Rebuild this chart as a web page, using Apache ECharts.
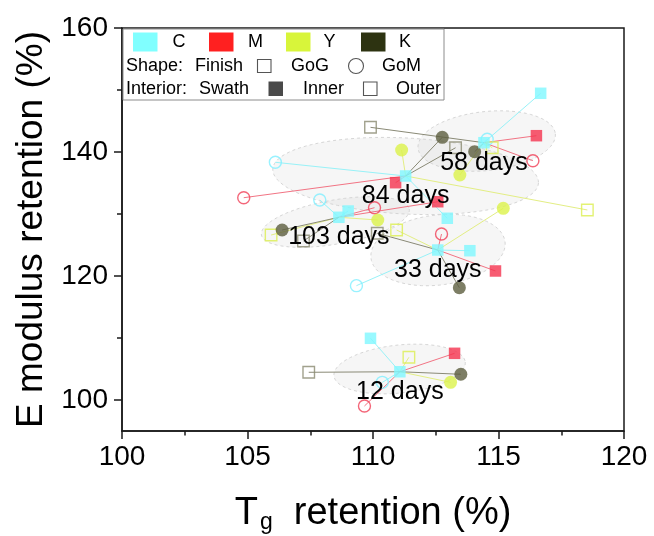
<!DOCTYPE html>
<html>
<head>
<meta charset="utf-8">
<script src="https://cdn.jsdelivr.net/npm/echarts@6/dist/echarts.min.js"></script>
<style>html,body{margin:0;padding:0;background:#fff;}#chart{width:654px;height:536px;}</style>
</head>
<body>
<div id="chart"></div>
<script>
// ---------- data (Tg retention %, E modulus retention %) ----------
const clusterNames = ['12 days', '33 days', '58 days', '84 days', '103 days'];
const hubTg = [111.07, 112.58, 114.42, 111.30, 108.64];
const hubE  = [104.56, 124.19, 141.50, 136.13, 129.47];

// C : GoG inner (square, filled), GoM outer (circle, hollow)
const cSquareTg = [109.90, 113.86, 116.68, 112.96, 109.01];
const cSquareE  = [109.95, 124.08, 149.47, 129.31, 130.48];
const cCircleTg = [110.37, 109.34, 114.55, 106.11, 107.88];
const cCircleE  = [102.85, 118.44, 142.05, 138.34, 132.26];
// M : GoG inner (square, filled), GoM outer (circle, hollow)
const mSquareTg = [113.25, 114.88, 116.51, 110.90, 112.58];
const mSquareE  = [107.53, 120.81, 142.63, 135.05, 131.98];
const mCircleTg = [109.66, 112.73, 116.37, 104.85, 110.06];
const mCircleE  = [ 99.03, 126.77, 138.60, 132.63, 131.02];
// Y : GoG outer (square, hollow), GoM inner (circle, filled)
const ySquareTg = [111.43, 110.94, 114.75, 118.54, 105.94];
const ySquareE  = [106.89, 127.42, 140.69, 130.65, 126.61];
const yCircleTg = [113.09, 115.19, 113.46, 111.14, 110.19];
const yCircleE  = [102.85, 130.92, 136.29, 140.32, 129.03];
// K : GoG outer (square, hollow), GoM inner (circle, filled)
const kSquareTg = [107.44, 110.17, 109.90, 113.29, 107.23];
const kSquareE  = [104.47, 126.89, 143.98, 140.69, 125.65];
const kCircleTg = [113.50, 113.44, 114.05, 112.76, 106.38];
const kCircleE  = [104.15, 118.11, 140.05, 142.37, 127.42];

// grouping ellipses (centre, semi-axes in axis units, tilt in degrees)
const ellTg   = [111.06, 112.59, 114.53, 111.30, 108.50];
const ellE    = [105.00, 124.19, 141.77, 136.13, 128.71];
const ellRTg  = [2.63, 2.69, 2.75, 5.30, 2.99];
const ellRE   = [3.87, 5.65, 4.76, 6.13, 3.55];
const ellTilt = [6, 7, 6, -3, 10];

const xTicks = [100, 105, 110, 115, 120];
const yTicks = [100, 120, 140, 160];
const yMinorTicks = [110, 130, 150];

const inkNames = ['C', 'M', 'Y', 'K'];
const shapeWords = ['Shape:', 'Finish', 'GoG', 'GoM'];
const interiorWords = ['Interior:', 'Swath', 'Inner', 'Outer'];

// ---------- styles ----------
const FONT = '"Liberation Sans", Arial, Helvetica, sans-serif';
const legendColors = ['#80FFFF', '#FF2020', '#D8F53A', '#2D3311'];
const markColors   = ['#7FF8FF', '#F5334F', '#DCF24A', '#5C5E3F'];
const strokeColors = ['#7FEFFF', '#F04058', '#DCEF50', '#8A8A70'];
const lineColors   = ['#98F2F8', '#F27484', '#E3EE84', '#8A8A76'];

const inks = [
  {sx: cSquareTg, sy: cSquareE, cx: cCircleTg, cy: cCircleE, squareFilled: true},
  {sx: mSquareTg, sy: mSquareE, cx: mCircleTg, cy: mCircleE, squareFilled: true},
  {sx: ySquareTg, sy: ySquareE, cx: yCircleTg, cy: yCircleE, squareFilled: false},
  {sx: kSquareTg, sy: kSquareE, cx: kCircleTg, cy: kCircleE, squareFilled: false}
];

const ellipseData = ellTg.map((v, i) => [v, ellE[i], ellRTg[i], ellRE[i], ellTilt[i]]);

const lineData = [];
inks.forEach((ink, k) => {
  clusterNames.forEach((n, i) => {
    lineData.push([hubTg[i], hubE[i], ink.sx[i], ink.sy[i], k]);
    lineData.push([hubTg[i], hubE[i], ink.cx[i], ink.cy[i], k]);
  });
});

function markItem(x, y, shape, filled, k) {
  return {
    value: [x, y],
    symbol: shape,
    symbolSize: shape === 'rect' ? 11.5 : (filled ? 13 : 12),
    itemStyle: filled
      ? {color: markColors[k], borderWidth: 0}
      : {color: 'rgba(255,255,255,0)', borderColor: strokeColors[k], borderWidth: 1.4}
  };
}

const scatterSeries = inks.map((ink, k) => ({
  type: 'scatter',
  name: inkNames[k],
  z: 4,
  data: clusterNames.flatMap((n, i) => [
    markItem(ink.sx[i], ink.sy[i], 'rect', ink.squareFilled, k),
    markItem(ink.cx[i], ink.cy[i], 'circle', !ink.squareFilled, k)
  ])
}));

// ---------- legend (graphic) ----------
const lg = [];
lg.push({type: 'rect', shape: {x: 123, y: 29, width: 321, height: 71},
  style: {fill: '#fff', stroke: '#8c8c8c', lineWidth: 1}, z: 100});
const swX = [133, 209, 286, 361];
const inkTextX = [179, 255.5, 329.5, 405];
inkNames.forEach((n, k) => {
  lg.push({type: 'rect', shape: {x: swX[k], y: 32.5, width: 24.5, height: 19},
    style: {fill: legendColors[k]}, z: 101});
  lg.push({type: 'text', z: 101, style: {text: n, x: inkTextX[k], y: 42.5, font: '18px ' + FONT,
    fill: '#000', textAlign: 'center', textVerticalAlign: 'middle'}});
});
const row2X = [126, 195, 291, 382];
shapeWords.forEach((w, i) => lg.push({type: 'text', z: 101, style: {text: w, x: row2X[i], y: 66,
  font: '18px ' + FONT, fill: '#000', textAlign: 'left', textVerticalAlign: 'middle'}}));
lg.push({type: 'rect', z: 101, shape: {x: 257.5, y: 59.5, width: 13.5, height: 13},
  style: {fill: '#fff', stroke: '#555', lineWidth: 1.1}});
lg.push({type: 'circle', z: 101, shape: {cx: 356, cy: 66, r: 7.5},
  style: {fill: '#fff', stroke: '#555', lineWidth: 1.1}});
const row3X = [126, 199, 303, 396];
interiorWords.forEach((w, i) => lg.push({type: 'text', z: 101, style: {text: w, x: row3X[i], y: 89,
  font: '18px ' + FONT, fill: '#000', textAlign: 'left', textVerticalAlign: 'middle'}}));
lg.push({type: 'rect', z: 101, shape: {x: 268.5, y: 81.5, width: 14.5, height: 14.5},
  style: {fill: '#4a4a4a'}});
lg.push({type: 'rect', z: 101, shape: {x: 363.5, y: 82, width: 13.5, height: 13.5},
  style: {fill: '#fff', stroke: '#555', lineWidth: 1.1}});

const axisLineStyle = {color: '#1a1a1a', width: 1.5};

const option = {
  backgroundColor: '#fff',
  animation: false,
  textStyle: {fontFamily: FONT},
  grid: {left: 122, right: 30, top: 28, bottom: 105, show: true, containLabel: false,
    outerBoundsMode: 'none',
    borderColor: '#1a1a1a', borderWidth: 1.5, backgroundColor: 'transparent'},
  xAxis: {
    type: 'value', min: xTicks[0], max: xTicks[xTicks.length - 1], interval: 5,
    axisLine: {show: true, lineStyle: axisLineStyle},
    axisTick: {show: true, length: 8, lineStyle: axisLineStyle},
    minorTick: {show: true, splitNumber: 2, length: 4.5, lineStyle: axisLineStyle},
    splitLine: {show: false},
    axisLabel: {fontSize: 28, color: '#000', margin: 12, fontFamily: FONT},
    name: '{a|T}{s|g}{a|  retention (%)}',
    nameLocation: 'middle', nameGap: 62,
    nameTextStyle: {
      rich: {
        a: {fontSize: 38, color: '#000', fontFamily: FONT},
        s: {fontSize: 23, color: '#000', fontFamily: FONT, padding: [18, 0, 0, 2]}
      }
    }
  },
  yAxis: [{
    type: 'value', min: 95, max: 160,
    axisLine: {show: true, lineStyle: axisLineStyle},
    axisTick: {show: true, length: 8, lineStyle: axisLineStyle, customValues: yTicks},
    splitLine: {show: false},
    axisLabel: {fontSize: 28, color: '#000', margin: 14, fontFamily: FONT, customValues: yTicks},
    name: 'E modulus retention (%)',
    nameLocation: 'middle', nameGap: 72, nameRotate: 90,
    nameTextStyle: {fontSize: 37, color: '#000', fontFamily: FONT}
  }, {
    type: 'value', min: 95, max: 160, position: 'left',
    axisLine: {show: false},
    axisTick: {show: true, length: 5, lineStyle: axisLineStyle, customValues: yMinorTicks},
    axisLabel: {show: false, customValues: yMinorTicks},
    splitLine: {show: false}
  }],
  graphic: lg,
  series: [
    {
      type: 'custom', z: 1, silent: true,
      data: ellipseData,
      encode: {x: 0, y: 1},
      renderItem: function (params, api) {
        const c = api.coord([api.value(0), api.value(1)]);
        const s = api.size([api.value(2), api.value(3)]);
        const a = -api.value(4) * Math.PI / 180;
        const pts = [];
        for (let i = 0; i < 90; i++) {
          const t = i / 90 * Math.PI * 2;
          const ex = s[0] * Math.cos(t), ey = s[1] * Math.sin(t);
          pts.push([c[0] + ex * Math.cos(a) - ey * Math.sin(a), c[1] + ex * Math.sin(a) + ey * Math.cos(a)]);
        }
        return {type: 'polygon', shape: {points: pts},
          style: {fill: 'rgba(210,210,210,0.2)', stroke: '#d6d6d6', lineWidth: 1, lineDash: [3, 3]}};
      }
    },
    {
      type: 'custom', z: 2, silent: true,
      data: lineData,
      encode: {x: [0, 2], y: [1, 3]},
      renderItem: function (params, api) {
        const p1 = api.coord([api.value(0), api.value(1)]);
        const p2 = api.coord([api.value(2), api.value(3)]);
        return {type: 'line', shape: {x1: p1[0], y1: p1[1], x2: p2[0], y2: p2[1]},
          style: {stroke: lineColors[api.value(4)], lineWidth: 1}};
      }
    },
    ...scatterSeries,
    {
      type: 'scatter', z: 5,
      data: hubTg.map((v, i) => [v, hubE[i]]),
      symbol: 'rect', symbolSize: 11.5,
      itemStyle: {color: markColors[0]},
      label: {show: true, position: 'inside', offset: [0, 20],
        formatter: p => clusterNames[p.dataIndex],
        fontSize: 25, color: '#000', fontFamily: FONT,
        textBorderWidth: 0, textBorderColor: 'transparent', opacity: 1}
    }
  ]
};

const chart = echarts.init(document.getElementById('chart'), null, {renderer: 'canvas'});
chart.setOption(option);
</script>
</body>
</html>
